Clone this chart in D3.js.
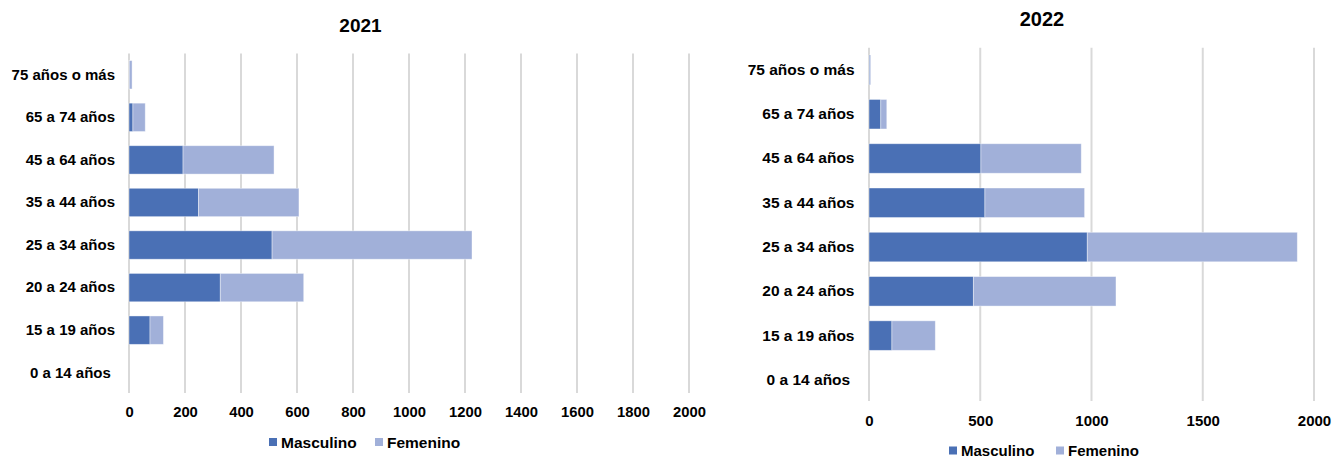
<!DOCTYPE html>
<html lang="es">
<head>
<meta charset="utf-8">
<script src="https://cdn.jsdelivr.net/npm/d3@7"></script>
<style>
  html, body { margin: 0; padding: 0; background: #ffffff; }
  svg { display: block; }
  text { font-family: "Liberation Sans", Arial, sans-serif; font-weight: bold; fill: #000; }
</style>
</head>
<body>
<svg id="chart" width="1332" height="459"></svg>
<script>
// Age groups, top to bottom
const ageGroups = ["75 años o más", "65 a 74 años", "45 a 64 años", "35 a 44 años",
                   "25 a 34 años", "20 a 24 años", "15 a 19 años", "0 a 14 años "];

// 2021
const masculino2021 = [1, 14, 193, 248, 511, 326, 75, 0];
const femenino2021  = [10, 44, 325, 359, 714, 298, 48, 0];
const ticks2021 = [0, 200, 400, 600, 800, 1000, 1200, 1400, 1600, 1800, 2000];

// 2022
const masculino2022 = [4, 53, 503, 521, 981, 469, 103, 0];
const femenino2022  = [4, 27, 451, 448, 944, 641, 195, 0];
const ticks2022 = [0, 500, 1000, 1500, 2000];

const seriesNames = ["Masculino", "Femenino"];
const seriesColors = ["#4a70b5", "#a1b0d9"];

const svg = d3.select("#chart");

function drawPanel(opt) {
  const rows = ageGroups.map((g, i) => ({ group: g, m: opt.masc[i], f: opt.fem[i] }));

  const x = d3.scaleLinear().domain([0, 2000]).range([opt.x0, opt.x1]);
  const y = d3.scaleBand().domain(ageGroups).range([opt.y0, opt.y1])
    .paddingInner(1 / 3).paddingOuter(1 / 6);

  const g = svg.append("g");

  // title
  g.append("text")
    .attr("x", opt.titleX).attr("y", opt.titleY)
    .attr("text-anchor", "middle")
    .style("font-size", opt.titleSize + "px")
    .text(opt.title);

  // vertical gridlines (the zero line doubles as the category axis)
  g.append("g").selectAll("line").data(opt.ticks).join("line")
    .attr("x1", d => x(d)).attr("x2", d => x(d))
    .attr("y1", opt.y0).attr("y2", opt.y1 - 1)
    .attr("stroke", "#d9d9d9").attr("stroke-width", 2);

  // value axis labels
  const xAxis = d3.axisBottom(x).tickValues(opt.ticks).tickFormat(d3.format("d"))
    .tickSize(0).tickPadding(0);
  const xg = g.append("g").attr("transform", `translate(0,${opt.tickY})`).call(xAxis);
  xg.select(".domain").remove();
  xg.selectAll("text")
    .attr("dy", "0.35em")
    .style("font-size", opt.tickSize + "px")
    .style("font-family", '"Liberation Sans", Arial, sans-serif')
    .style("font-weight", "bold").attr("fill", "#000");

  // category labels
  const yAxis = d3.axisLeft(y).tickSize(0).tickPadding(0);
  const yg = g.append("g").attr("transform", `translate(${opt.labelX},0)`).call(yAxis);
  yg.select(".domain").remove();
  yg.selectAll("text")
    .style("font-size", opt.catSize + "px")
    .style("font-family", '"Liberation Sans", Arial, sans-serif')
    .style("font-weight", "bold").attr("fill", "#000")
    .style("white-space", "pre");

  // stacked bars
  const bars = g.append("g");
  bars.selectAll("rect.m").data(rows).join("rect").attr("class", "m")
    .attr("x", x(0)).attr("y", d => y(d.group))
    .attr("width", d => x(d.m) - x(0)).attr("height", y.bandwidth())
    .attr("fill", seriesColors[0])
    .attr("stroke", "rgba(255,255,255,0.5)").attr("stroke-width", 0.8);
  bars.selectAll("rect.f").data(rows).join("rect").attr("class", "f")
    .attr("x", d => x(d.m)).attr("y", d => y(d.group))
    .attr("width", d => x(d.m + d.f) - x(d.m)).attr("height", y.bandwidth())
    .attr("fill", seriesColors[1])
    .attr("stroke", "rgba(255,255,255,0.5)").attr("stroke-width", 0.8);

  // legend
  const lg = g.append("g");
  seriesNames.forEach((name, i) => {
    const lx = opt.legendX[i];
    lg.append("rect")
      .attr("x", lx).attr("y", opt.legendY - 4)
      .attr("width", 8).attr("height", 8)
      .attr("fill", seriesColors[i]);
    lg.append("text")
      .attr("x", lx + 12).attr("y", opt.legendY)
      .attr("dy", "0.36em")
      .style("font-size", opt.legendSize + "px")
      .text(name);
  });
}

drawPanel({
  title: "2021", titleX: 360.5, titleY: 32, titleSize: 19,
  masc: masculino2021, fem: femenino2021, ticks: ticks2021,
  x0: 129, x1: 689, y0: 53.5, y1: 394,
  labelX: 115, catSize: 15,
  tickY: 411.5, tickSize: 14.8,
  legendX: [269, 375], legendY: 442, legendSize: 15.5
});

drawPanel({
  title: "2022", titleX: 1042, titleY: 25.5, titleSize: 20,
  masc: masculino2022, fem: femenino2022, ticks: ticks2022,
  x0: 869, x1: 1314, y0: 47.8, y1: 402,
  labelX: 854.5, catSize: 15.5,
  tickY: 421, tickSize: 15,
  legendX: [949, 1056], legendY: 450.5, legendSize: 15
});
</script>
</body>
</html>
